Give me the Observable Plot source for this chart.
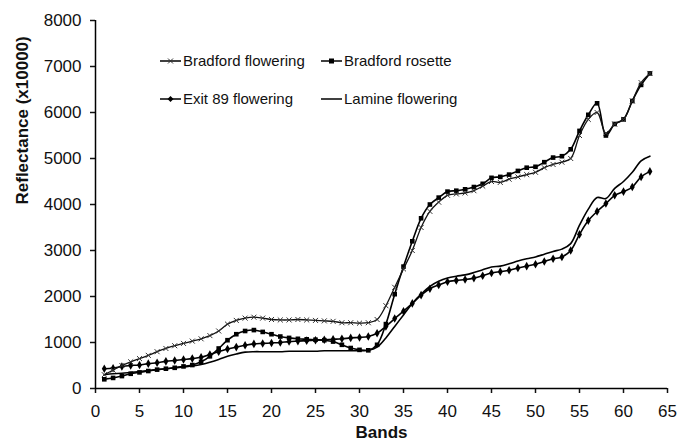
<!DOCTYPE html>
<html>
<head>
<meta charset="utf-8">
<script src="https://cdn.jsdelivr.net/npm/d3@7"></script>
<script src="https://cdn.jsdelivr.net/npm/@observablehq/plot@0.6"></script>
<style>
  html, body { margin: 0; padding: 0; background: #fff; }
  #wrap { position: relative; width: 678px; height: 445px; font-family: "Liberation Sans", Arial, sans-serif; }
  .leg { position: absolute; display: flex; align-items: center; font-size: 15px; color: #111; white-space: nowrap; }
  .leg svg { margin-right: 2px; }
</style>
</head>
<body>
<div id="wrap"></div>
<script>
const bands = [1,2,3,4,5,6,7,8,9,10,11,12,13,14,15,16,17,18,19,20,21,22,23,24,25,26,27,28,29,30,31,32,33,34,35,36,37,38,39,40,41,42,43,44,45,46,47,48,49,50,51,52,53,54,55,56,57,58,59,60,61,62,63];

const bradfordFlowering = [300,400,500,580,650,720,800,870,930,980,1030,1080,1150,1250,1400,1480,1530,1550,1530,1500,1490,1490,1500,1490,1480,1470,1460,1430,1430,1420,1430,1500,1800,2200,2600,3000,3500,3850,4050,4200,4230,4250,4300,4400,4500,4480,4550,4600,4650,4700,4800,4870,4920,5000,5500,5850,6000,5550,5750,5850,6250,6650,6850];

const bradfordRosette = [200,230,270,320,350,380,410,430,450,480,510,580,700,870,1050,1180,1250,1270,1230,1180,1130,1100,1080,1070,1060,1050,1020,950,880,840,830,950,1400,2050,2650,3200,3700,4000,4150,4280,4300,4330,4380,4450,4580,4600,4650,4730,4800,4820,4920,5020,5050,5200,5600,5950,6200,5500,5750,5850,6250,6600,6850];

const exit89Flowering = [430,440,480,500,510,540,560,590,610,630,650,680,740,800,860,900,940,970,980,990,1000,1020,1030,1040,1050,1060,1070,1080,1100,1110,1130,1200,1350,1520,1680,1850,2030,2170,2250,2320,2350,2370,2400,2450,2510,2540,2570,2620,2660,2700,2760,2820,2860,3000,3350,3650,3850,4020,4200,4280,4380,4600,4720];

const lamineFlowering = [300,320,330,350,370,390,410,430,450,470,490,520,570,630,700,750,790,800,800,800,800,810,810,810,810,820,820,820,820,820,830,900,1100,1350,1600,1850,2050,2220,2330,2400,2440,2470,2520,2580,2640,2660,2710,2770,2820,2860,2920,2980,3030,3150,3550,3900,4150,4130,4350,4500,4700,4950,5050];

const seriesNames = ["Bradford flowering", "Bradford rosette", "Exit 89 flowering", "Lamine flowering"];
const seriesValues = [bradfordFlowering, bradfordRosette, exit89Flowering, lamineFlowering];
const xTicks = [0,5,10,15,20,25,30,35,40,45,50,55,60,65];
const yTicks = [0,1000,2000,3000,4000,5000,6000,7000,8000];

const rows = seriesNames.flatMap((name, i) => bands.map((b, j) => ({series: name, band: b, value: seriesValues[i][j]})));
const of = name => rows.filter(d => d.series === name);

const font = "Liberation Sans, Arial, sans-serif";
const chart = Plot.plot({
  width: 678,
  height: 445,
  marginLeft: 95,
  marginRight: 11,
  marginTop: 20,
  marginBottom: 57,
  style: {fontFamily: font, fontSize: "17px", color: "#111", background: "#fff"},
  x: {domain: [0, 65], ticks: xTicks, label: null},
  y: {domain: [0, 8000], ticks: yTicks, label: null},
  marks: [
    Plot.axisX({ticks: xTicks, tickFormat: d3.format("d"), tickSize: 5, tickPadding: 11, fontSize: 17, label: null, strokeWidth: 1.5}),
    Plot.axisY({ticks: yTicks, tickFormat: d3.format("d"), tickSize: 5, tickPadding: 9, fontSize: 17, label: null, strokeWidth: 1.5}),
    Plot.ruleY([0], {stroke: "#000", strokeWidth: 1.5}),
    Plot.ruleX([0], {stroke: "#000", strokeWidth: 1.5}),
    Plot.line(of("Lamine flowering"), {x: "band", y: "value", stroke: "#000", strokeWidth: 1.6, curve: "catmull-rom"}),
    Plot.line(of("Exit 89 flowering"), {x: "band", y: "value", stroke: "#000", strokeWidth: 1.6, curve: "catmull-rom"}),
    Plot.dot(of("Exit 89 flowering"), {x: "band", y: "value", fill: "#000", symbol: "diamond", r: 2.6}),
    Plot.line(of("Bradford rosette"), {x: "band", y: "value", stroke: "#000", strokeWidth: 1.6, curve: "catmull-rom"}),
    Plot.dot(of("Bradford rosette"), {x: "band", y: "value", fill: "#000", symbol: "square", r: 2.6}),
    Plot.line(of("Bradford flowering"), {x: "band", y: "value", stroke: "#111", strokeWidth: 1.3, curve: "catmull-rom"}),
    Plot.dot(of("Bradford flowering"), {x: "band", y: "value", stroke: "#333", symbol: "times", r: 2.4, strokeWidth: 1}),
    Plot.text(["Bands"], {frameAnchor: "bottom", dy: 49, fontWeight: "bold", fontSize: 17, fill: "#111"}),
    Plot.text(["Reflectance (x10000)"], {frameAnchor: "left", dx: -73, rotate: -90, fontWeight: "bold", fontSize: 17, fill: "#111"})
  ]
});

const wrap = document.getElementById("wrap");
wrap.appendChild(chart);

function legendItem(name, kind, left, top) {
  const div = document.createElement("div");
  div.className = "leg";
  div.style.left = left + "px";
  div.style.top = top + "px";
  let sym = "";
  if (kind === "times") sym = '<path d="M8,-2.5L13,2.5M8,2.5L13,-2.5" stroke="#333" stroke-width="1"/>';
  if (kind === "square") sym = '<rect x="8" y="-2.5" width="5" height="5" fill="#000"/>';
  if (kind === "diamond") sym = '<path d="M10.5,-3L13.5,0L10.5,3L7.5,0Z" fill="#000"/>';
  div.innerHTML = `<svg width="21" height="10" viewBox="0 -5 21 10"><line x1="0" x2="21" y1="0" y2="0" stroke="#000" stroke-width="1.5"/>${sym}</svg><span>${name}</span>`;
  wrap.appendChild(div);
}
legendItem(seriesNames[0], "times", 160, 52);
legendItem(seriesNames[1], "square", 321, 52);
legendItem(seriesNames[2], "diamond", 160, 90);
legendItem(seriesNames[3], "none", 321, 90);
</script>
</body>
</html>
